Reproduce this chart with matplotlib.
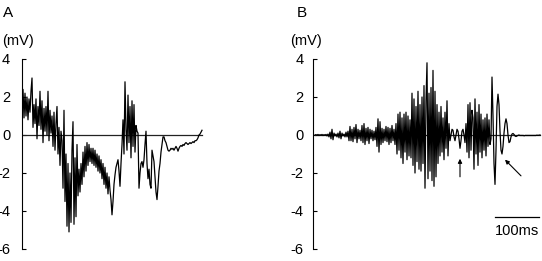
import numpy as np
import matplotlib
matplotlib.use("Agg")
import matplotlib.pyplot as plt

plt.rcParams['font.family'] = ['Liberation Sans', 'DejaVu Sans']
plt.rcParams['axes.unicode_minus'] = False

# one sample per ~2.27 ms (100 ms scale bar)
dt = 100 / 44.0

# panel A trace (mV)
a_mv = [
    1.6, 2.4, 0.9, 2.2, 1.0, 2.0, 0.8, 1.9, 1.2, 2.3,
    3.0, 0.4, 1.6, 0.6, 1.9, -0.2, 1.5, 0.5, 2.3, 0.3,
    1.8, -0.4, 1.4, 0.2, 1.5, 0.0, 2.3, -0.3, 1.3, 0.1,
    1.0, -0.6, 1.2, -0.8, 0.6, 1.5, -1.0, 0.4, -1.6, 0.2,
    -0.3, -2.8, 1.3, -3.5, -1.0, -4.8, -1.5, -5.1, -2.0, -4.6,
    -0.8, 0.7, -4.7, -1.2, -4.3, -0.5, -3.2, -1.8, -3.0, -1.5,
    -2.6, -0.9, -2.2, -0.6, -1.9, -0.4, -1.6, -0.5, -1.4, -0.7,
    -1.5, -0.7, -1.6, -0.8, -1.7, -1.0, -1.9, -1.1, -2.0, -1.3,
    -2.3, -1.5, -2.6, -1.7, -2.8, -2.0, -3.1, -2.2, -2.9, -3.4,
    -4.2, -3.5, -2.6, -2.1, -1.7, -1.5, -1.3, -1.9, -2.7, -1.5,
    -0.5, 0.8, -1.0, 2.8, 0.3, -0.8, 2.1, -0.4, 1.5, -1.2,
    1.8, -0.6, 1.6, -0.9, 0.5, 0.2, 0.1, -2.8, -2.0, -1.5,
    -1.4, -1.7, -1.3, -0.5, 0.2, -1.5, -2.3, -1.8, -2.6, -2.8,
    -0.8, -1.1, -1.4, -2.2, -3.0, -3.4, -2.7, -1.9, -1.5, -0.9,
    -0.5, -0.1, -0.1, -0.3, -0.4, -0.6, -0.8, -0.85, -0.8, -0.7,
    -0.75, -0.7, -0.8, -0.7, -0.6, -0.7, -0.85, -0.7, -0.6, -0.55,
    -0.6, -0.5, -0.55, -0.45, -0.4, -0.45, -0.5, -0.45, -0.4, -0.45,
    -0.4, -0.35, -0.4, -0.3, -0.3, -0.25, -0.15, 0.0, 0.05, 0.15, 0.25,
]

# panel B trace (mV)
b_mv = [
    0.0, 0.02, -0.02, 0.03, -0.03, 0.02, -0.02, 0.03, -0.03, 0.02,
    -0.02, 0.03, -0.05, 0.05, -0.1, 0.15, -0.2, 0.3, -0.25, 0.1,
    -0.05, 0.05, -0.1, 0.1, -0.15, 0.2, -0.2, 0.1, -0.05, 0.05,
    -0.1, 0.15, -0.1, 0.2, -0.3, 0.45, -0.3, 0.3, -0.35, 0.4,
    -0.2, 0.55, -0.4, 0.3, -0.2, 0.25, -0.3, 0.5, -0.4, 0.6,
    -0.5, 0.35, -0.3, 0.4, -0.45, 0.3, -0.2, 0.25, -0.3, 0.2,
    -0.25, 0.4, -0.6, 0.85, -0.9, 0.7, -0.5, 0.35, -0.4, 0.3,
    -0.3, 0.45, -0.35, 0.4, -0.5, 0.35, -0.4, 0.5, -0.3, 0.3,
    -0.5, 0.6, -1.0, 1.1, -0.8, 1.2, -1.2, 0.9, -1.5, 1.1,
    -0.9, 1.2, -1.3, 1.0, -1.1, 0.8, -1.2, 2.2, -1.6, 1.9,
    -2.0, 1.5, -1.4, 2.3, -1.8, 1.6, -1.9, 2.0, -1.5, 2.6,
    -2.8, 1.8, 3.8, -2.3, 2.2, -1.9, 2.5, -2.4, 3.4, -2.7,
    2.3, -2.2, 1.6, -1.5, 1.2, -1.1, 1.5, -0.9, 0.9, -1.3,
    1.2, -0.7, 1.8, -1.1, 0.6, -0.3, 0.0, 0.3, 0.25, -0.1,
    -0.3, 0.0, 0.3, 0.2, -0.2, -0.7, -0.3, 0.2, 0.3, 0.0,
    -0.4, 0.6, -0.9, 1.6, -1.2, 1.7, -0.8, 1.3, 0.9, -1.8,
    1.9, -1.0, 1.2, -1.6, 1.6, -0.9, 1.1, -1.2, 0.8, -0.8,
    0.9, -1.1, 1.1, -0.6, 0.8, -0.5, -0.2,
    3.05, 1.0, -1.5, -2.6, -0.8, 1.5, 2.15, 1.6, 0.2, -0.8,
    -1.0, -0.6, 0.1, 0.6, 0.85, 0.6, 0.0, -0.4, -0.35, -0.1,
    0.05, 0.08, 0.03, -0.05, -0.08, -0.05, -0.02, 0.0, -0.03, -0.02,
    -0.03, -0.02, -0.04, -0.03, -0.02, -0.03, -0.02, -0.03, -0.02, -0.03,
    -0.02, -0.03, -0.02, -0.03, -0.02, -0.01, -0.02, -0.01, 0.0,
]

yticks = [-6, -4, -2, 0, 2, 4]

W, H = 542, 261
fig = plt.figure(figsize=(W / 100, H / 100), dpi=100)

def make_axes(left_px, width_px, pad):
    ax = fig.add_axes([left_px / W, 12 / H, width_px / W, 190 / H])
    ax.set_ylim(-6, 4)
    for s in ['top', 'right', 'bottom']:
        ax.spines[s].set_visible(False)
    ax.spines['left'].set_linewidth(0.8)
    ax.set_xticks([])
    ax.set_yticks(yticks)
    ax.tick_params(axis='y', direction='in', length=3, width=0.8, pad=pad, labelsize=10.5)
    ax.patch.set_alpha(0)
    return ax

# panel A
axA = make_axes(22, 190, 8.5)
t_a = np.arange(len(a_mv)) * dt
axA.set_xlim(0, 190 * dt)
axA.plot([t_a[0], t_a[-1]], [0, 0], color='#222222', lw=0.9)
axA.plot(t_a, a_mv, color='black', lw=0.9)
fig.text(3 / W, 1 - 13 / H, 'A', fontsize=11, va='center', ha='left')
fig.text(2 / W, 1 - 41 / H, '(mV)', fontsize=10.5, va='center', ha='left')

# panel B
axB = make_axes(313, 229, 7)
t_b = np.arange(len(b_mv)) * dt
axB.set_xlim(-2 * dt, 227 * dt)
axB.plot([t_b[0], t_b[-1]], [0, 0], color='#222222', lw=0.9)
axB.plot(t_b, b_mv, color='black', lw=0.9)
fig.text(297 / W, 1 - 13 / H, 'B', fontsize=11, va='center', ha='left')
fig.text(290 / W, 1 - 41 / H, '(mV)', fontsize=10.5, va='center', ha='left')

# scale bar
bar_x0 = 180 * dt
axB.plot([bar_x0, bar_x0 + 100], [-4.3, -4.3], color='black', lw=0.9, clip_on=False)
axB.text(bar_x0 + 50, -5.05, '100ms', fontsize=10.5, ha='center', va='center')

# arrows
axB.annotate('', xy=(145 * dt, -1.25), xytext=(145 * dt, -2.2),
             arrowprops=dict(arrowstyle='-|>', lw=0.8, color='black',
                             mutation_scale=6, shrinkA=0, shrinkB=0))
axB.annotate('', xy=(190 * dt, -1.3), xytext=(206 * dt, -2.15),
             arrowprops=dict(arrowstyle='-|>', lw=0.8, color='black',
                             mutation_scale=6, shrinkA=0, shrinkB=0))

fig.savefig('out.png', dpi=100)
